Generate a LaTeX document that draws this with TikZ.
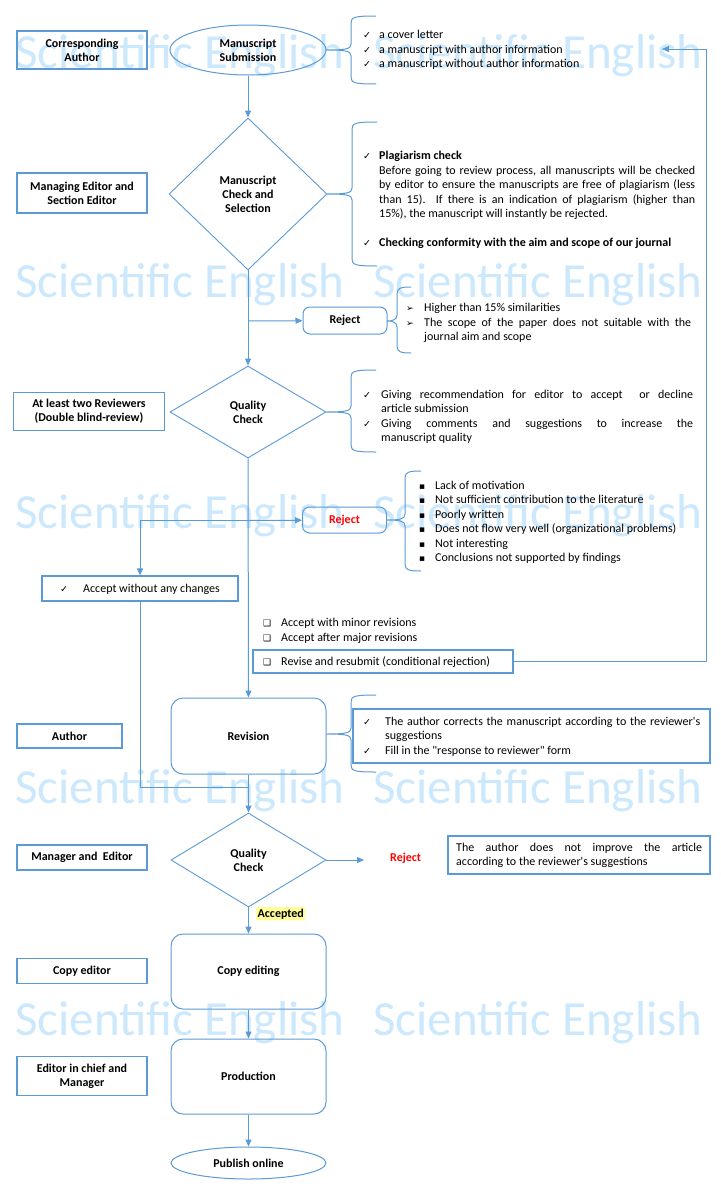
\documentclass[tikz,border=0pt]{standalone}
\usepackage{fontspec}
\setmainfont{Carlito}[Ligatures=TeXOff]
\newfontfamily\dejavu{DejaVu Sans}
\usetikzlibrary{shapes.geometric,arrows.meta}
\definecolor{lb}{RGB}{91,155,213}
\definecolor{wmc}{RGB}{204,232,252}
\definecolor{rj}{RGB}{255,0,0}
\definecolor{hl}{RGB}{255,255,153}
\newcommand\txtf{\fontsize{12}{14.5}\selectfont}
\newcommand\bldf{\fontsize{12}{14}\selectfont\bfseries}
\newcommand\wmf{\fontsize{49}{49}\selectfont}
\newcommand\ckf{\dejavu\fontsize{9.5}{9.5}\selectfont}
\newcommand\sqf{\dejavu\fontsize{9}{9}\selectfont}
\newcommand\jl[2]{\makebox[#1pt][s]{#2}}
\newcommand\wbrace[6]{% x, ytop, ybot, ytip, xtip, tick
  \draw[ln] (#1+#6,#2) .. controls (#1+4,#2) and (#1,#2+1) .. (#1,#2+7)
    -- (#1,#4-6) .. controls (#1,#4-1) and (#1-5,#4) .. (#5,#4)
    .. controls (#1-5,#4) and (#1,#4+1) .. (#1,#4+6)
    -- (#1,#3-7) .. controls (#1,#3-1) and (#1+4,#3) .. (#1+#6,#3);}
\begin{document}
\begin{tikzpicture}[x=1pt,y=-1pt,
  ln/.style={draw=lb, line width=1pt},
  arr/.style={ln, -{Triangle[length=7pt,width=6pt]}},
  lbl/.style={draw=lb, line width=1.3pt, font=\bldf, align=center, inner sep=0pt},
  tbox/.style={draw=lb, line width=1.2pt, inner sep=0pt},
  proc/.style={draw=lb, line width=1pt, rounded corners=12pt, font=\bldf, align=center, inner sep=0pt},
  dia/.style={diamond, draw=lb, line width=0.9pt, font=\bldf, align=center, inner sep=0pt},
  ell/.style={ellipse, draw=lb, line width=1pt, font=\bldf, align=center, inner sep=0pt},
  txt/.style={font=\txtf, inner sep=0pt, anchor=base west},
  btxt/.style={font=\bldf, inner sep=0pt, anchor=base west},
  mk/.style={font=\ckf, inner sep=0pt, anchor=base west},
  sq/.style={font=\sqf, inner sep=0pt, anchor=base west},
  wm/.style={font=\wmf, text=wmc, inner sep=0pt, anchor=base west}]
\useasboundingbox (0,0) rectangle (720,1191);
\fill[white] (0,0) rectangle (720,1191);
% watermark
\foreach \yy/\nn in {68/1,297/2,528/3,803/4,1035/5}{
  \node[wm] (wma\nn) at (15,\yy) {Scientific English};
  \node[wm] (wmb\nn) at (373,\yy) {Scientific English};
}
% left role labels
\node[lbl, minimum width=130, minimum height=38] (ca) at (82,50) {Corresponding\\Author};
\node[lbl, minimum width=130, minimum height=40] (mse) at (82,193) {Managing Editor and\\Section Editor};
\node[lbl, minimum width=151, minimum height=38] (rvw) at (89,411.5) {At least two Reviewers\\(Double blind-review)};
\node[lbl, minimum width=105, minimum height=24] (au) at (69.5,736) {Author};
\node[lbl, minimum width=130, minimum height=25] (mge) at (82,857.5) {Manager and\ \ Editor};
\node[lbl, minimum width=130, minimum height=25] (cpr) at (82,971) {Copy editor};
\node[lbl, minimum width=130, minimum height=39] (eic) at (82,1076) {Editor in chief and\\Manager};
% main flow
\node[ell, minimum width=156, minimum height=50] (sub) at (248,50) {Manuscript\\Submission};
\node[dia, minimum width=158, minimum height=152] (mcs) at (248,194) {Manuscript\\Check and\\Selection};
\node[proc, rounded corners=7pt, minimum width=84, minimum height=27] (rej1) at (345,320.5) {Reject};
\node[dia, minimum width=156, minimum height=92] (qc1) at (248,412) {Quality\\Check};
\node[proc, rounded corners=7pt, minimum width=84, minimum height=26, text=rj] (rej2) at (344.5,520) {Reject};
\node[tbox, minimum width=196, minimum height=25] (acc) at (140,588.5) {};
\node[tbox, minimum width=260, minimum height=23] (resub) at (383,661.5) {};
\node[proc, minimum width=155, minimum height=76] (rev) at (248.5,736) {Revision};
\node[tbox, minimum width=357, minimum height=54] (revtxt) at (531.5,736) {};
\node[dia, minimum width=155, minimum height=94] (qc2) at (248.5,860) {Quality\\Check};
\node[btxt, text=rj] (rej3) at (390,861) {Reject};
\node[tbox, minimum width=262, minimum height=38] (rtxt) at (579,855) {};
\node[proc, minimum width=155, minimum height=75] (cpe) at (248.5,971.5) {Copy editing};
\node[proc, minimum width=155, minimum height=75] (prod) at (248.5,1076.5) {Production};
\node[ell, minimum width=155, minimum height=32] (pub) at (248.5,1163) {Publish online};
\node[btxt, fill=hl, rounded corners=2pt, inner sep=1.5pt] (accd) at (256,917) {Accepted};
% coordinates
\coordinate (b1) at (248,321);
\coordinate (b2) at (248,520.5);
\coordinate (j1) at (248,787);
\coordinate (r3) at (364,860);
\coordinate (fbc) at (706,49);
\coordinate (fb) at (662,49);
% connectors
\draw[arr] (sub) -- (mcs);
\draw[arr] (mcs) -- (qc1);
\draw[arr] (b1) -- (rej1);
\draw[arr] (qc1) -- (rev);
\draw[arr] (b2) -- (rej2);
\draw[arr] (b2) -| (acc);
\draw[ln] (acc) |- (j1);
\draw[arr] (rev) -- (qc2);
\draw[arr] (qc2) -- (r3);
\draw[arr] (qc2) -- (cpe);
\draw[arr] (cpe) -- (prod);
\draw[arr] (prod) -- (pub);
\draw[arr] (resub) -| (fbc) -- (fb);
% braces
\wbrace{351}{16}{84}{50}{326}{25}
\wbrace{352}{122}{266}{194}{327}{25}
\wbrace{397}{287}{353}{321}{387}{14}
\wbrace{351}{370}{452}{412}{326}{25}
\wbrace{405}{471}{571}{520}{387}{16}
\wbrace{351}{695}{772}{734}{326}{25}
% brace 1 text
\node[mk] (m1a) at (363,38) {✓}; \node[txt] (t1a) at (379,38) {a cover letter};
\node[mk] (m1b) at (363,53) {✓}; \node[txt] (t1b) at (379,53) {a manuscript with author information};
\node[mk] (m1c) at (363,67) {✓}; \node[txt] (t1c) at (379,67) {a manuscript without author information};
% brace 2 text
\node[mk] (m2a) at (363,159) {✓}; \node[btxt] (t2a) at (379,159) {Plagiarism check};
\node[txt] (t2b) at (379,174) {\jl{316}{Before going to review process, all manuscripts will be checked}};
\node[txt] (t2c) at (379,188.5) {\jl{316}{by editor to ensure the manuscripts are free of plagiarism (less}};
\node[txt] (t2d) at (379,203) {\jl{316}{than 15).\ \ If there is an indication of plagiarism (higher than}};
\node[txt] (t2e) at (379,217.5) {15\%), the manuscript will instantly be rejected.};
\node[mk] (m2f) at (363,246) {✓}; \node[btxt] (t2f) at (379,246) {Checking conformity with the aim and scope of our journal};
% brace 3 text
\node[sq] (m3a) at (406,311) {➢}; \node[txt] (t3a) at (424,311) {Higher than 15\% similarities};
\node[sq] (m3b) at (406,326) {➢}; \node[txt] (t3b) at (424,326) {\jl{267}{The scope of the paper does not suitable with the}};
\node[txt] (t3c) at (424,340) {journal aim and scope};
% brace 4 text
\node[mk] (m4a) at (363,398) {✓}; \node[txt] (t4a) at (381,398) {\jl{312}{Giving recommendation for editor to accept\ \ or decline}};
\node[txt] (t4b) at (381,412.5) {article submission};
\node[mk] (m4c) at (363,427) {✓}; \node[txt] (t4c) at (381,427) {\jl{312}{Giving comments and suggestions to increase the}};
\node[txt] (t4d) at (381,441) {manuscript quality};
% brace 5 text
\foreach \yy/\nn/\tt in {489/a/Lack of motivation, 503.5/b/Not sufficient contribution to the literature, 518/c/Poorly written, 532.5/d/Does not flow very well (organizational problems), 547/e/Not interesting, 561/f/Conclusions not supported by findings}{
  \node[sq] (m5\nn) at (419,\yy) {▪};
  \node[txt] (t5\nn) at (435,\yy) {\tt};
}
% accept / revisions
\node[mk] (m6a) at (60,592) {✓}; \node[txt] (t6a) at (83,592) {Accept without any changes};
\node[sq] (m7a) at (263,626) {❑}; \node[txt] (t7a) at (281,626) {Accept with minor revisions};
\node[sq] (m7b) at (263,641) {❑}; \node[txt] (t7b) at (281,641) {Accept after major revisions};
\node[sq] (m7c) at (263,665) {❑}; \node[txt] (t7c) at (281,665) {Revise and resubmit (conditional rejection)};
% revision text
\node[mk] (m8a) at (363,725) {✓}; \node[txt] (t8a) at (385,725) {\jl{315}{The author corrects the manuscript according to the reviewer's}};
\node[txt] (t8b) at (385,739.5) {suggestions};
\node[mk] (m8c) at (363,754) {✓}; \node[txt] (t8c) at (385,754) {Fill in the "response to reviewer" form};
% reject text
\node[txt] (t9a) at (456,851) {\jl{246}{The author does not improve the article}};
\node[txt] (t9b) at (456,865.5) {according to the reviewer's suggestions};
\end{tikzpicture}
\end{document}
